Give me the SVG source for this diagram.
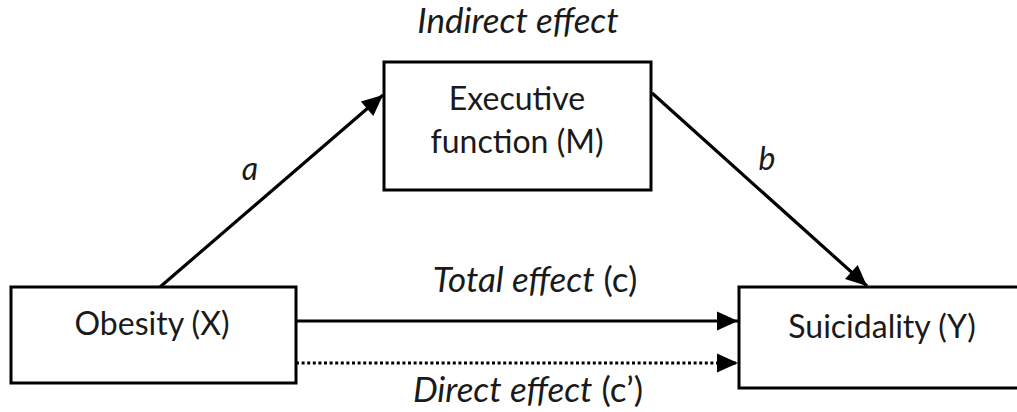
<svg xmlns="http://www.w3.org/2000/svg" width="1017" height="412" viewBox="0 0 1017 412">
<style>
.box{fill:#fff;stroke:#000;stroke-width:3}
.t{font-family:Lato,"Open Sans","Liberation Sans",sans-serif;font-size:32px;fill:#1a1a1a;text-anchor:middle}
.big{font-size:35px}
.i{font-style:italic}
.ln{stroke:#000;stroke-width:3.2;fill:none}
.dot{stroke-dasharray:3 2.6}
</style>
<defs>
<marker id="ah" markerUnits="userSpaceOnUse" markerWidth="24" markerHeight="22" viewBox="0 0 24 22" refX="22" refY="11" orient="auto">
<path d="M1,1.5 L22,11 L1,20.5 Z" fill="#000"/>
</marker>
</defs>
<text class="t i big" x="518" y="33">Indirect effect</text>
<g id="connectors">
<line class="ln" x1="160" y1="287" x2="383" y2="95" marker-end="url(#ah)"/>
<line class="ln" x1="652" y1="93" x2="867" y2="286" marker-end="url(#ah)"/>
<line class="ln" x1="296" y1="321" x2="738" y2="321" marker-end="url(#ah)"/>
<line class="ln dot" x1="296" y1="363" x2="738" y2="363" marker-end="url(#ah)"/>
<text class="t i" x="250" y="180">a</text>
<text class="t i" x="767" y="170">b</text>
<text class="t big" x="535" y="292"><tspan font-style="italic">Total effect</tspan> (c)</text>
<text class="t big" x="528" y="402"><tspan font-style="italic">Direct effect</tspan> (c’)</text>
</g>
<g id="node-m">
<rect class="box" x="384" y="62" width="267" height="128"/>
<text class="t" x="517" y="110">Executive</text>
<text class="t" x="517" y="153">function (M)</text>
</g>
<g id="node-x">
<rect class="box" x="11" y="287" width="285" height="96"/>
<text class="t" x="152" y="335">Obesity (X)</text>
</g>
<g id="node-y">
<rect class="box" x="739" y="287" width="290" height="101"/>
<text class="t" x="882" y="338">Suicidality (Y)</text>
</g>
</svg>
